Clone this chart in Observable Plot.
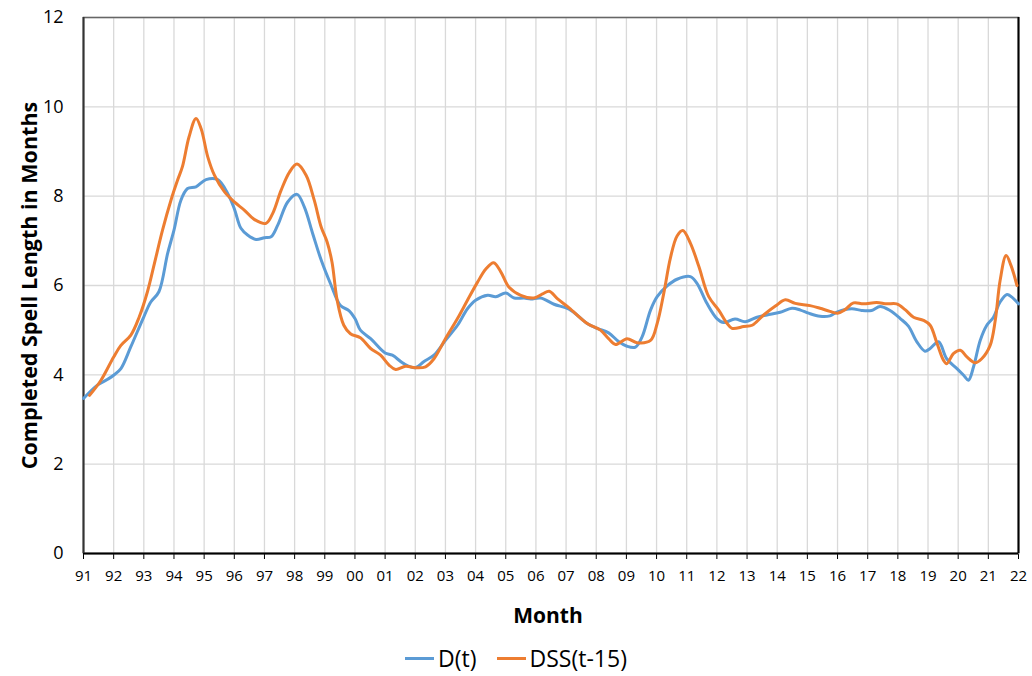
<!DOCTYPE html>
<html><head><meta charset="utf-8">
<script src="https://cdn.jsdelivr.net/npm/d3@7"></script>
<script src="https://cdn.jsdelivr.net/npm/@observablehq/plot@0.6"></script>
<style>
body{margin:0;background:#fff;font-family:"Open Sans",sans-serif;}
#legend{display:flex;justify-content:center;align-items:center;height:40px;margin-top:8px;font-size:23px;color:#000;gap:20px;padding-left:0}
.item{display:flex;align-items:center;gap:4px}
.sw{width:29px;height:3px;display:inline-block}
</style></head><body><div id="chart"></div><div id="legend"></div>
<script>
const seriesNames = ["D(t)", "DSS(t-15)"];
const seriesColors = ["#5B9BD5", "#ED7D31"];
const yearTicks = d3.range(1991, 2023);
const yTicks = [0, 2, 4, 6, 8, 10, 12];

const dYear = [1991.00,1991.46,1991.80,1992.00,1992.24,1992.57,1993.00,1993.23,1993.50,1993.79,1994.00,1994.23,1994.45,1994.73,1995.06,1995.45,1995.78,1996.00,1996.22,1996.44,1996.72,1997.00,1997.22,1997.44,1997.77,1998.08,1998.32,1998.60,1998.88,1999.19,1999.52,1999.80,2000.00,2000.18,2000.52,2001.00,2001.24,2001.62,2002.00,2002.29,2002.62,2003.00,2003.40,2003.73,2004.00,2004.40,2004.67,2005.00,2005.28,2005.61,2005.83,2006.16,2006.60,2007.10,2007.70,2008.03,2008.41,2008.75,2009.02,2009.30,2009.52,2009.80,2010.02,2010.35,2010.68,2011.12,2011.34,2011.67,2012.00,2012.23,2012.60,2012.94,2013.33,2013.66,2014.10,2014.49,2014.77,2015.04,2015.42,2015.75,2016.00,2016.47,2016.80,2017.13,2017.41,2017.74,2018.08,2018.35,2018.63,2018.90,2019.07,2019.35,2019.62,2019.96,2020.18,2020.34,2020.51,2020.73,2020.95,2021.17,2021.39,2021.62,2021.78,2022.00];
const dValue = [3.47,3.77,3.90,3.99,4.14,4.63,5.30,5.63,5.86,6.72,7.24,7.91,8.17,8.21,8.37,8.37,8.06,7.72,7.28,7.13,7.03,7.07,7.09,7.35,7.87,8.04,7.76,7.16,6.57,6.04,5.55,5.44,5.26,5.00,4.81,4.49,4.44,4.25,4.16,4.30,4.44,4.77,5.11,5.48,5.67,5.78,5.75,5.83,5.72,5.72,5.70,5.72,5.58,5.47,5.15,5.04,4.94,4.74,4.64,4.62,4.85,5.45,5.75,5.99,6.14,6.20,6.05,5.60,5.26,5.17,5.25,5.19,5.29,5.34,5.40,5.49,5.45,5.38,5.31,5.32,5.41,5.48,5.44,5.44,5.53,5.44,5.26,5.09,4.74,4.53,4.59,4.74,4.36,4.14,3.99,3.88,4.18,4.77,5.11,5.29,5.63,5.80,5.74,5.59];

const dssYear = [1991.20,1991.58,1992.00,1992.24,1992.57,1992.85,1993.12,1993.35,1993.62,1993.90,1994.12,1994.28,1994.50,1994.73,1994.90,1995.12,1995.34,1995.67,1996.00,1996.33,1996.66,1997.05,1997.27,1997.55,1997.83,1998.08,1998.38,1998.65,1998.88,1999.08,1999.24,1999.41,1999.63,1999.85,2000.18,2000.52,2000.85,2001.13,2001.35,2001.68,2002.00,2002.34,2002.62,2003.00,2003.40,2003.73,2004.06,2004.34,2004.60,2004.84,2005.11,2005.50,2005.94,2006.22,2006.44,2006.72,2007.10,2007.70,2008.14,2008.41,2008.64,2009.02,2009.35,2009.80,2010.02,2010.24,2010.46,2010.68,2010.87,2011.12,2011.40,2011.73,2012.06,2012.34,2012.50,2012.89,2013.17,2013.55,2013.94,2014.27,2014.60,2015.09,2015.42,2015.75,2016.00,2016.25,2016.53,2016.86,2017.30,2017.63,2017.96,2018.24,2018.52,2018.85,2019.07,2019.30,2019.51,2019.62,2019.85,2020.07,2020.29,2020.56,2020.78,2021.06,2021.23,2021.39,2021.59,2021.75,2021.95];
const dssValue = [3.54,3.88,4.40,4.66,4.89,5.30,5.86,6.49,7.24,7.91,8.36,8.66,9.33,9.74,9.51,8.88,8.47,8.10,7.87,7.69,7.48,7.39,7.61,8.13,8.54,8.72,8.47,7.91,7.31,6.97,6.52,5.67,5.11,4.92,4.83,4.59,4.44,4.22,4.12,4.19,4.16,4.18,4.36,4.81,5.26,5.67,6.07,6.37,6.51,6.30,5.96,5.78,5.72,5.81,5.87,5.70,5.50,5.15,5.00,4.81,4.68,4.81,4.72,4.77,5.15,5.83,6.62,7.11,7.23,6.95,6.43,5.75,5.45,5.15,5.04,5.08,5.11,5.34,5.54,5.68,5.60,5.55,5.49,5.42,5.38,5.46,5.61,5.59,5.62,5.59,5.59,5.46,5.29,5.22,5.11,4.70,4.33,4.25,4.48,4.55,4.40,4.27,4.36,4.66,5.22,6.11,6.67,6.45,6.00];

const dData = dYear.map((x, i) => ({x, y: dValue[i]}));
const dssData = dssYear.map((x, i) => ({x, y: dssValue[i]}));

const chart = Plot.plot({
  width: 1032, height: 630,
  marginLeft: 83, marginRight: 14, marginTop: 17, marginBottom: 77,
  style: {fontFamily: "'Open Sans', sans-serif", background: "#fff", color: "#000", overflow: "visible"},
  x: {domain: [1991, 2022]},
  y: {domain: [0, 12]},
  marks: [
    Plot.gridX(yearTicks, {stroke: "#d9d9d9", strokeOpacity: 1, strokeWidth: 1.3}),
    Plot.gridY(yTicks, {stroke: "#d9d9d9", strokeOpacity: 1, strokeWidth: 1.3}),
    Plot.axisX(yearTicks, {tickFormat: d => String(d % 100).padStart(2, "0"), tickSize: 6, tickPadding: 11, fontSize: 15, label: null, stroke: "#000"}),
    Plot.axisY(yTicks, {tickSize: 0, tickPadding: 20, fontSize: 18, label: null}),
    Plot.frame({stroke: "#666", strokeWidth: 1.5}),
    Plot.ruleY([0], {stroke: "#000", strokeWidth: 2}),
    Plot.ruleX([1991], {stroke: "#333", strokeWidth: 2}),
    Plot.ruleX([2022], {stroke: "#000", strokeWidth: 2}),
    Plot.line(dData, {x: "x", y: "y", stroke: seriesColors[0], strokeWidth: 3, curve: "catmull-rom"}),
    Plot.line(dssData, {x: "x", y: "y", stroke: seriesColors[1], strokeWidth: 3, curve: "catmull-rom"}),
    Plot.text(["Month"], {frameAnchor: "bottom", dy: 69, dx: -3, fontSize: 21, fontWeight: "bold"}),
    Plot.text(["Completed Spell Length in Months"], {frameAnchor: "left", textAnchor: "middle", lineAnchor: "middle", rotate: -90, dx: -53, fontSize: 21.5, fontWeight: "bold"})
  ]
});
document.getElementById("chart").appendChild(chart);

const legend = document.getElementById("legend");
seriesNames.forEach((name, i) => {
  const it = document.createElement("div");
  it.className = "item";
  const sw = document.createElement("span");
  sw.className = "sw";
  sw.style.background = seriesColors[i];
  const tx = document.createElement("span");
  tx.textContent = name;
  it.appendChild(sw); it.appendChild(tx);
  legend.appendChild(it);
});
</script></body></html>
